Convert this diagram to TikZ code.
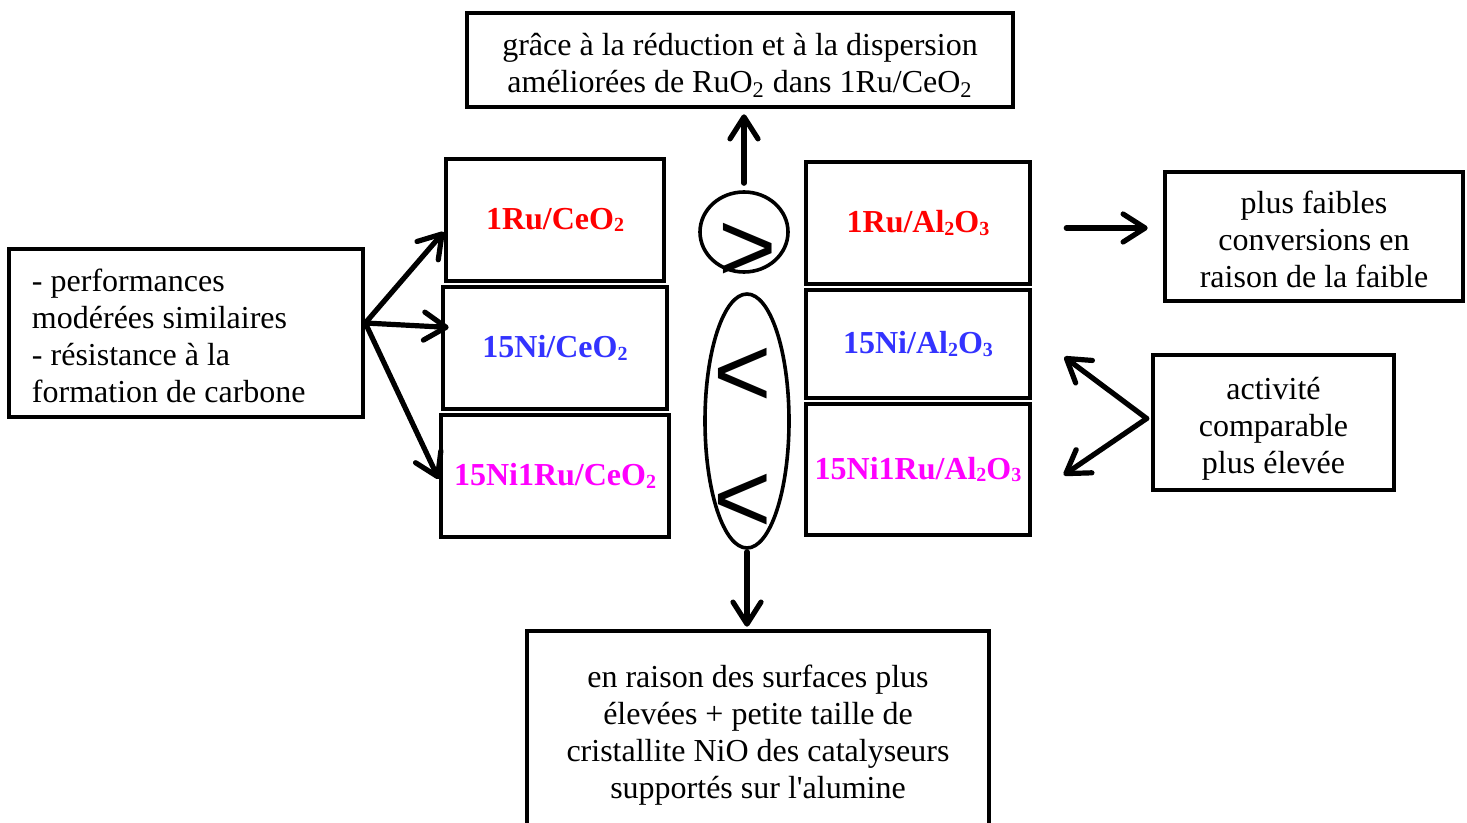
\documentclass[tikz,border=0pt]{standalone}
\usepackage{fontspec}
\setmainfont{Liberation Serif}
\newfontfamily\signfont{Liberation Sans}
\usetikzlibrary{arrows.meta,shapes.geometric}
\newcommand{\lowsub}[1]{{\fontsize{10pt}{10pt}\selectfont\raisebox{-1.2pt}{#1}}}
\newcommand{\boxlines}[2][c]{\raisebox{-3.2pt}[\height][\depth]{\begin{tabular}{@{}#1@{}}#2\end{tabular}}}

\begin{document}
\begin{tikzpicture}[x=0.5pt,y=0.5pt,yscale=-1,
  txt/.style={font=\fontsize{16pt}{18.5pt}\selectfont},
  box/.style={draw, line width=2.3pt, txt, align=center, inner sep=0pt},
  cat/.style={box, font=\fontsize{16pt}{18.5pt}\selectfont\bfseries},
  sign/.style={font=\signfont\fontsize{50pt}{50pt}\selectfont, inner sep=0pt, anchor=base},
  ring/.style={draw, ellipse, line width=1.8pt, inner sep=0pt},
  arr/.style={line width=2.6pt, line cap=round, -{Straight Barb[length=11pt,width=14pt,line cap=round,line join=round]}}]
\useasboundingbox (0,0) rectangle (1467,823);

% Text Node
\node[box, minimum width=273pt, minimum height=47pt] (reason) at (740,60) {\boxlines{grâce à la réduction et à la dispersion\\améliorées de RuO\textsubscript{2} dans 1Ru/CeO\textsubscript{2}}};
% Text Node
\node[box, align=flush left, text width=154pt, inner xsep=11.5pt, minimum height=84pt] (similar) at (186,333) {\boxlines[l]{- performances\\modérées similaires\\- résistance à la\\formation de carbone}};

%Shape: ceria catalysts
\node[cat, text={rgb, 255:red, 255; green, 0; blue, 0}, minimum width=109pt, minimum height=61pt] (ruce) at (555,220) {1Ru/CeO\lowsub{2}};
\node[cat, text={rgb, 255:red, 51; green, 51; blue, 255}, minimum width=112pt, minimum height=61pt] (nice) at (555,348) {15Ni/CeO\lowsub{2}};
\node[cat, text={rgb, 255:red, 255; green, 0; blue, 255}, minimum width=114pt, minimum height=61pt] (niruce) at (555,476) {15Ni1Ru/CeO\lowsub{2}};

%Shape: alumina catalysts
\node[cat, text={rgb, 255:red, 255; green, 0; blue, 0}, minimum width=112pt, minimum height=61pt] (rual) at (918,223) {1Ru/Al\lowsub{2}O\lowsub{3}};
\node[cat, text={rgb, 255:red, 51; green, 51; blue, 255}, minimum width=112pt, minimum height=54pt] (nial) at (918,344) {15Ni/Al\lowsub{2}O\lowsub{3}};
\node[cat, text={rgb, 255:red, 255; green, 0; blue, 255}, minimum width=112pt, minimum height=65.5pt] (nirual) at (918,469.5) {15Ni1Ru/Al\lowsub{2}O\lowsub{3}};

%Shape: comparison signs
\node[ring, minimum width=44pt, minimum height=40pt] (gt) at (744,232) {};
\node[sign] (gtsign) at (748,282) {>};
\node[ring, minimum width=42pt, minimum height=127pt] (lt) at (747,421) {};
\node[sign] (ltsigna) at (743,407) {<};
\node[sign] (ltsignb) at (743,532) {<};

% Text Node
\node[box, minimum width=149pt, minimum height=64.5pt] (lower) at (1314,236.5) {\boxlines{plus faibles\\conversions en\\raison de la faible}};
% Text Node
\node[box, minimum width=120.5pt, minimum height=67.5pt] (higher) at (1273.5,422.5) {\boxlines{activité\\comparable\\plus élevée}};
% Text Node
\node[box, minimum width=231pt, minimum height=98pt] (surface) at (758,729) {\boxlines{en raison des surfaces plus\\élevées + petite taille de\\cristallite NiO des catalyseurs\\supportés sur l\textquotesingle alumine}};

%Straight Lines: from the left box
\draw[arr] ([yshift=-5pt]similar.east) -- ([yshift=6pt]ruce.west);
\draw[arr, shorten >=-4pt] ([yshift=-5pt]similar.east) -- ([yshift=-10.5pt]nice.west);
\draw[arr] ([yshift=-5pt]similar.east) -- ([yshift=1.5pt]niruce.west);

%Straight Lines: up and down
\draw[arr, shorten <=3.5pt, shorten >=2.5pt] (gt.north) -- (gt.north |- reason.south);
\draw[arr, shorten <=1pt, shorten >=1pt] (lt.south) -- (lt.south |- surface.north);

%Straight Lines: to the right
\draw[arr, shorten <=17pt, shorten >=7.5pt] ([yshift=2.5pt]rual.east) -- ([yshift=2.5pt]rual.east -| lower.west);
\draw[arr, shorten >=20pt] ([xshift=-2pt,yshift=-2pt]higher.west) -- ([yshift=-5.5pt]nial.east);
\draw[arr, shorten >=19pt] ([xshift=-2pt,yshift=-2pt]higher.west) -- ([yshift=13.5pt]nirual.east);

\end{tikzpicture}
\end{document}
